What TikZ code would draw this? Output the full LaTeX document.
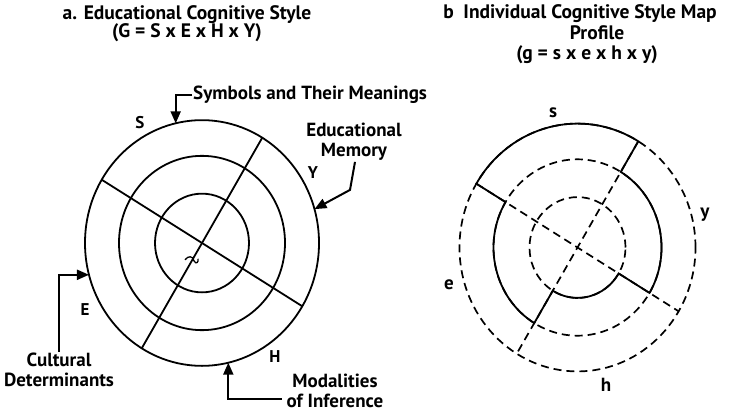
\documentclass[tikz,border=0pt]{standalone}
\usepackage{fontspec}
\setmainfont{PT Sans}
\usepackage{tikz}
\usetikzlibrary{arrows.meta, positioning, calc}
\tikzset{
  ring/.style={line width=1.8pt},
  dashring/.style={line width=1.7pt, dash pattern=on 8pt off 5pt},
  profile/.style={line width=1.8pt, line join=miter},
  callout/.style={-{Triangle[length=12pt,width=10pt]}, line width=2pt},
  headnode/.style={font=\fontsize{19.5}{21}\selectfont\bfseries, inner sep=1pt},
  tagnode/.style={font=\fontsize{19}{20}\selectfont\bfseries, inner sep=1pt, align=center},
  lettnode/.style={font=\fontsize{17}{19}\selectfont\bfseries, inner sep=0pt},
  smallnode/.style={font=\fontsize{19}{21}\selectfont\bfseries, inner sep=0pt},
}
\begin{document}
\begin{tikzpicture}[x=1pt, y=1pt]
  \useasboundingbox (0,0) rectangle (730,416);
  % titles
  \node[headnode] (ta) at (187,401) {a. Educational Cognitive Style};
  \node[headnode] (ga) at (187,383) {(G = S x E x H x Y)};
  \node[headnode] (tb) at (580,402) {b\enspace Individual Cognitive Style Map};
  \node[headnode] (pb) at (597,383) {Profile};
  \node[headnode] (gb) at (587,361) {(g = s x e x h x y)};

  % a: the four rings of G
  \begin{scope}[shift={(202,173)}, yscale=1.05]
    \foreach \r in {47,83,117} \draw[ring] (0,0) circle (\r);
    \draw[ring] (149:117) -- (329:117);
    \draw[ring] (59:117) -- (239:117);
    \coordinate (stip) at (103:117);
    \coordinate (ytip) at (16:117);
    \coordinate (etip) at (195:117);
    \coordinate (htip) at (283:117);
    \draw[line width=1.3pt] (-17,-16) .. controls (-14,-12) and (-9,-12) .. (-8,-17)
      .. controls (-6,-21) and (-3,-18) .. (-4,-15);
  \end{scope}
  \node[lettnode] (S) at (140,293) {S};
  \node[lettnode] (Y) at (313,243) {Y};
  \node[lettnode] (E) at (85,106) {E};
  \node[lettnode] (H) at (275,59) {H};

  \node[tagnode, anchor=west] (symb) at (192,321) {Symbols and Their Meanings};
  \node[tagnode] (edmem) at (354,274) {Educational\\Memory};
  \node[tagnode] (cult) at (59,46) {Cultural\\Determinants};
  \node[tagnode] (modal) at (335,25) {Modalities\\of Inference};
  \draw[callout] (symb.west) -| (stip);
  \draw[callout] ([xshift=1pt]edmem.south) -- ++(-5,-28) -- (ytip);
  \draw[callout] (cult.north) |- (etip);
  \draw[callout] ([yshift=-8pt, xshift=-4pt]modal.west) -| (htip);

  % b: individual profile g
  \begin{scope}[shift={(577.5,168.5)}, yscale=1.05]
    \foreach \r in {48,84,118} \draw[dashring] (0,0) circle (\r);
    \draw[dashring] (149:118) -- (329:118);
    \draw[dashring] (59:118) -- (239:118);
    \draw[profile] (149:118) arc[start angle=149, end angle=59, radius=118]
      -- (59:84) arc[start angle=59, end angle=-31, radius=84]
      -- (-31:48) arc[start angle=329, end angle=239, radius=48]
      -- (239:84) arc[start angle=239, end angle=149, radius=84] -- cycle;
  \end{scope}
  \node[smallnode] (s) at (553,303) {s};
  \node[smallnode] (y) at (705,201) {y};
  \node[smallnode] (e) at (449,131) {e};
  \node[smallnode] (h) at (606,31) {h};
\end{tikzpicture}
\end{document}
